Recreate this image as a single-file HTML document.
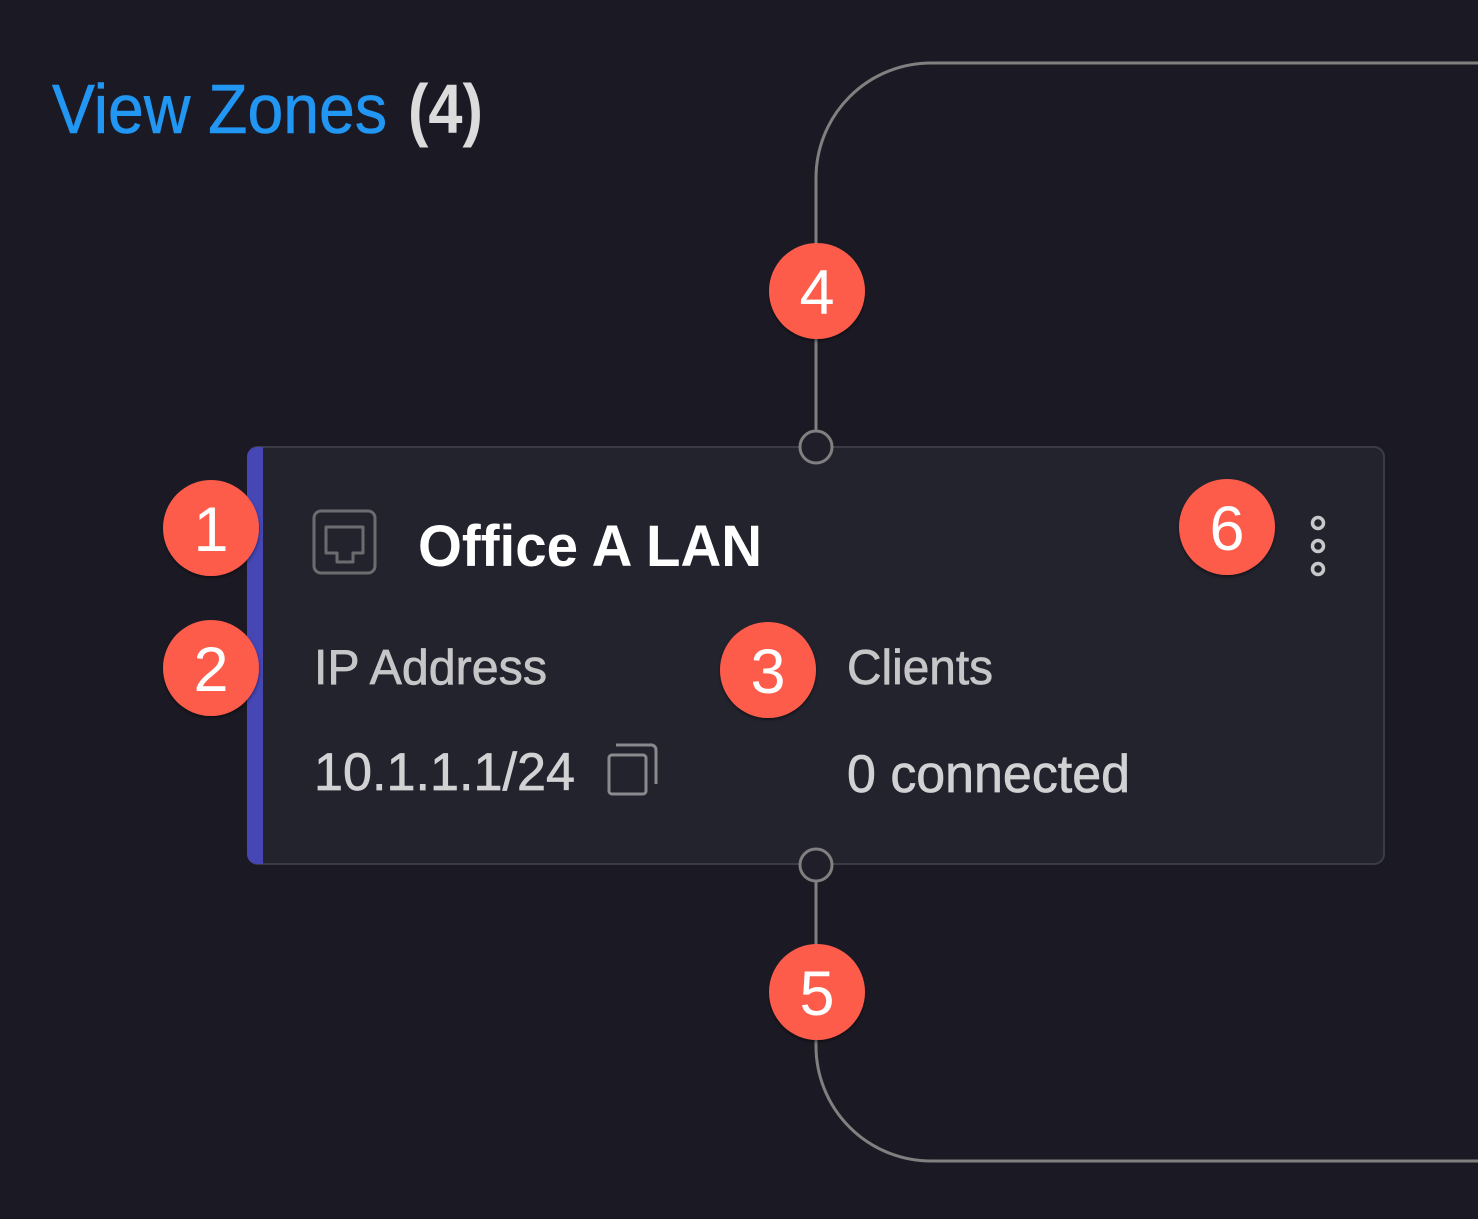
<!DOCTYPE html>
<html>
<head>
<meta charset="utf-8">
<style>
  html,body{margin:0;padding:0;background:#1b1a24;}
  body{width:1478px;height:1219px;overflow:hidden;}
  svg{display:block;}
  text{font-family:"Liberation Sans",Arial,sans-serif;}
</style>
</head>
<body>
<svg width="1478" height="1219" viewBox="0 0 1478 1219" xmlns="http://www.w3.org/2000/svg">
  <defs>
    <filter id="sh" x="-20%" y="-20%" width="140%" height="150%">
      <feDropShadow dx="0" dy="2" stdDeviation="1.5" flood-color="#000" flood-opacity="0.45"/>
    </filter>
  </defs>
  <rect width="1478" height="1219" fill="#1b1a24"/>

  <!-- Title -->
  <text x="52" y="133" font-size="70" fill="#2196f3" stroke="#2196f3" stroke-width="0.6" textLength="335" lengthAdjust="spacingAndGlyphs">View Zones</text>
  <text x="408" y="133" font-size="70" font-weight="bold" fill="#dcdcdc" textLength="75" lengthAdjust="spacingAndGlyphs">(4)</text>

  <!-- Connectors -->
  <path d="M816 430 V178 A115 115 0 0 1 931 63 H1480" fill="none" stroke="#808080" stroke-width="3"/>
  <path d="M816 882 V1046 A115 115 0 0 0 931 1161 H1480" fill="none" stroke="#808080" stroke-width="3"/>

  <!-- Card -->
  <rect x="248" y="447" width="1136" height="417" rx="10" ry="10" fill="#23232e" stroke="#3c3c47" stroke-width="2"/>
  <path d="M257 447 H263 V864 H257 A10 10 0 0 1 247 854 V457 A10 10 0 0 1 257 447 Z" fill="#4646b4"/>

  <!-- Handles -->
  <circle cx="816" cy="447" r="16" fill="#1f1e29" stroke="#808080" stroke-width="3"/>
  <circle cx="816" cy="865" r="16" fill="#1f1e29" stroke="#808080" stroke-width="3"/>

  <!-- Icon -->
  <rect x="314" y="511" width="61" height="62" rx="7" fill="none" stroke="#6c6c70" stroke-width="3"/>
  <path d="M326 527 H363 V553 H353 V562 H337 V553 H326 Z" fill="none" stroke="#6c6c70" stroke-width="3" stroke-linejoin="round"/>

  <!-- Card title -->
  <text x="418" y="566" font-size="58" font-weight="bold" fill="#ffffff" textLength="344" lengthAdjust="spacingAndGlyphs">Office A LAN</text>

  <!-- Fields -->
  <g stroke-width="0.7">
    <text x="314" y="684" font-size="49" fill="#c6c6c8" stroke="#c6c6c8" textLength="233" lengthAdjust="spacingAndGlyphs">IP Address</text>
    <text x="314" y="790" font-size="53" fill="#d2d2d4" stroke="#d2d2d4" textLength="261" lengthAdjust="spacingAndGlyphs">10.1.1.1/24</text>
    <text x="847" y="684" font-size="49" fill="#c6c6c8" stroke="#c6c6c8" textLength="146" lengthAdjust="spacingAndGlyphs">Clients</text>
    <text x="847" y="792" font-size="53" fill="#d2d2d4" stroke="#d2d2d4" textLength="283" lengthAdjust="spacingAndGlyphs">0 connected</text>
  </g>

  <!-- Copy icon -->
  <path d="M616 745 H650 A5 5 0 0 1 656 750 V784" fill="none" stroke="#8a8a8e" stroke-width="3"/>
  <rect x="609" y="755" width="37" height="39" rx="3" fill="none" stroke="#8a8a8e" stroke-width="3"/>

  <!-- Kebab -->
  <circle cx="1318" cy="523" r="5.5" fill="none" stroke="#c8c8ca" stroke-width="3.5"/>
  <circle cx="1318" cy="546" r="5.5" fill="none" stroke="#c8c8ca" stroke-width="3.5"/>
  <circle cx="1318" cy="569" r="5.5" fill="none" stroke="#c8c8ca" stroke-width="3.5"/>

  <!-- Badges -->
  <g filter="url(#sh)" fill="#fd5b4c">
    <circle cx="211" cy="528" r="48"/>
    <circle cx="211" cy="668" r="48"/>
    <circle cx="768" cy="670" r="48"/>
    <circle cx="817" cy="291" r="48"/>
    <circle cx="817" cy="992" r="48"/>
    <circle cx="1227" cy="527" r="48"/>
  </g>
  <g font-size="63" fill="#ffffff" text-anchor="middle">
    <text x="211" y="551">1</text>
    <text x="211" y="691">2</text>
    <text x="768" y="693">3</text>
    <text x="817" y="314">4</text>
    <text x="817" y="1015">5</text>
    <text x="1227" y="550">6</text>
  </g>
</svg>
</body>
</html>
